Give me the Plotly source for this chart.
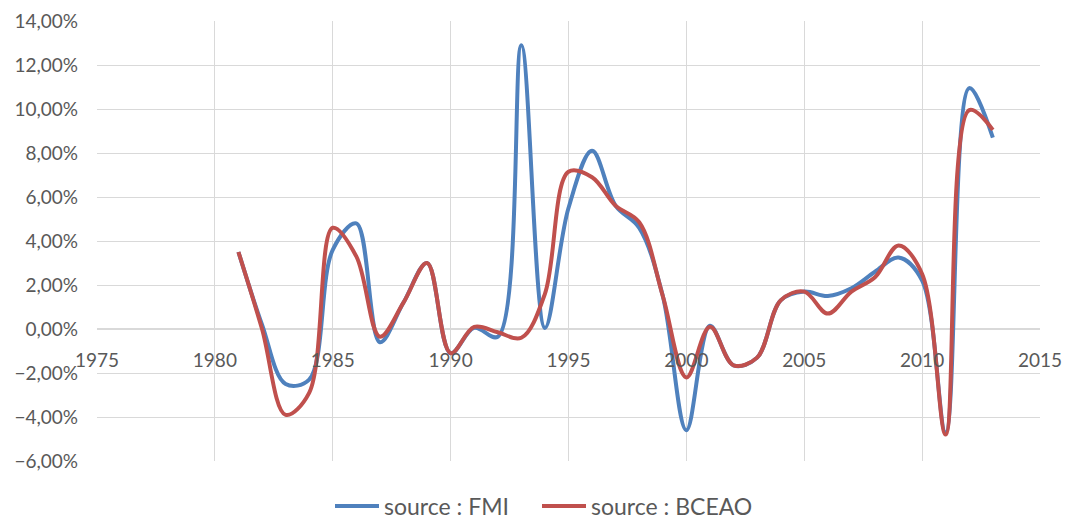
import plotly.graph_objects as go

years = list(range(1981, 2014))

# Annual rate, source FMI (in %)
fmi = [3.5, 0.2, -2.5, -2.3, 3.6, 4.8, -0.6, 1.2, 3.0, -1.1,
       0.05, -0.35, 12.9, 0.05, 5.5, 8.1, 5.6, 4.6, 1.5, -4.6,
       0.15, -1.65, -1.3, 1.3, 1.7, 1.5, 1.85, 2.6, 3.25, 2.2,
       -4.7, 10.95, 8.7]

# Annual rate, source BCEAO (in %)
bceao = [3.5, 0.0, -3.9, -2.9, 4.6, 3.3, -0.35, 1.2, 3.0, -1.1,
         0.1, -0.15, -0.4, 1.6, 7.15, 6.9, 5.6, 4.85, 1.5, -2.2,
         0.1, -1.65, -1.3, 1.3, 1.7, 0.7, 1.7, 2.35, 3.8, 2.5,
         -4.8, 9.95, 9.05]

x_ticks = [1975, 1980, 1985, 1990, 1995, 2000, 2005, 2010, 2015]
y_ticks = [-6, -4, -2, 0, 2, 4, 6, 8, 10, 12, 14]

BLUE = "#4F81BD"
RED = "#C0504D"
GRID = "#D9D9D9"
TEXT = "#595959"
FONT = "Lato"
W, H = 1067, 519

fig = go.Figure()
fig.add_trace(go.Scatter(
    x=years, y=[v / 100 for v in fmi], name="source : FMI", mode="lines",
    line=dict(color=BLUE, width=4, shape="spline", smoothing=1.0),
    legend="legend",
))
fig.add_trace(go.Scatter(
    x=years, y=[v / 100 for v in bceao], name="source : BCEAO", mode="lines",
    line=dict(color=RED, width=4, shape="spline", smoothing=1.0),
    legend="legend2",
))

ymin, ymax = y_ticks[0] / 100, y_ticks[-1] / 100
zero_pos = (0 - ymin) / (ymax - ymin)

legend_style = dict(orientation="h", xanchor="left",
                    yref="container", y=13 / H, yanchor="middle",
                    xref="container",
                    font=dict(size=23, color=TEXT), itemwidth=44,
                    bgcolor="rgba(0,0,0,0)")

fig.update_layout(
    width=W, height=H,
    margin=dict(l=97, r=27, t=21, b=58, autoexpand=False),
    paper_bgcolor="white", plot_bgcolor="white",
    separators=", ",
    font=dict(family=FONT, color=TEXT, size=19),
    showlegend=True,
    legend=dict(x=330 / W, **legend_style),
    legend2=dict(x=537 / W, **legend_style),
    xaxis=dict(
        range=[x_ticks[0], x_ticks[-1]], tickvals=x_ticks,
        showgrid=True, gridcolor=GRID, gridwidth=1,
        zeroline=False, showline=False, ticks="",
        anchor="free", position=zero_pos, ticklabelstandoff=18,
        tickfont=dict(size=19, color=TEXT),
    ),
    yaxis=dict(
        range=[ymin, ymax], tickvals=[v / 100 for v in y_ticks], tickformat=".2%",
        showgrid=True, gridcolor=GRID, gridwidth=1,
        zeroline=True, zerolinecolor=GRID, zerolinewidth=1.5,
        showline=False, ticks="", ticklabelstandoff=18,
        tickfont=dict(size=19, color=TEXT),
    ),
)

fig.write_html("out.html")
